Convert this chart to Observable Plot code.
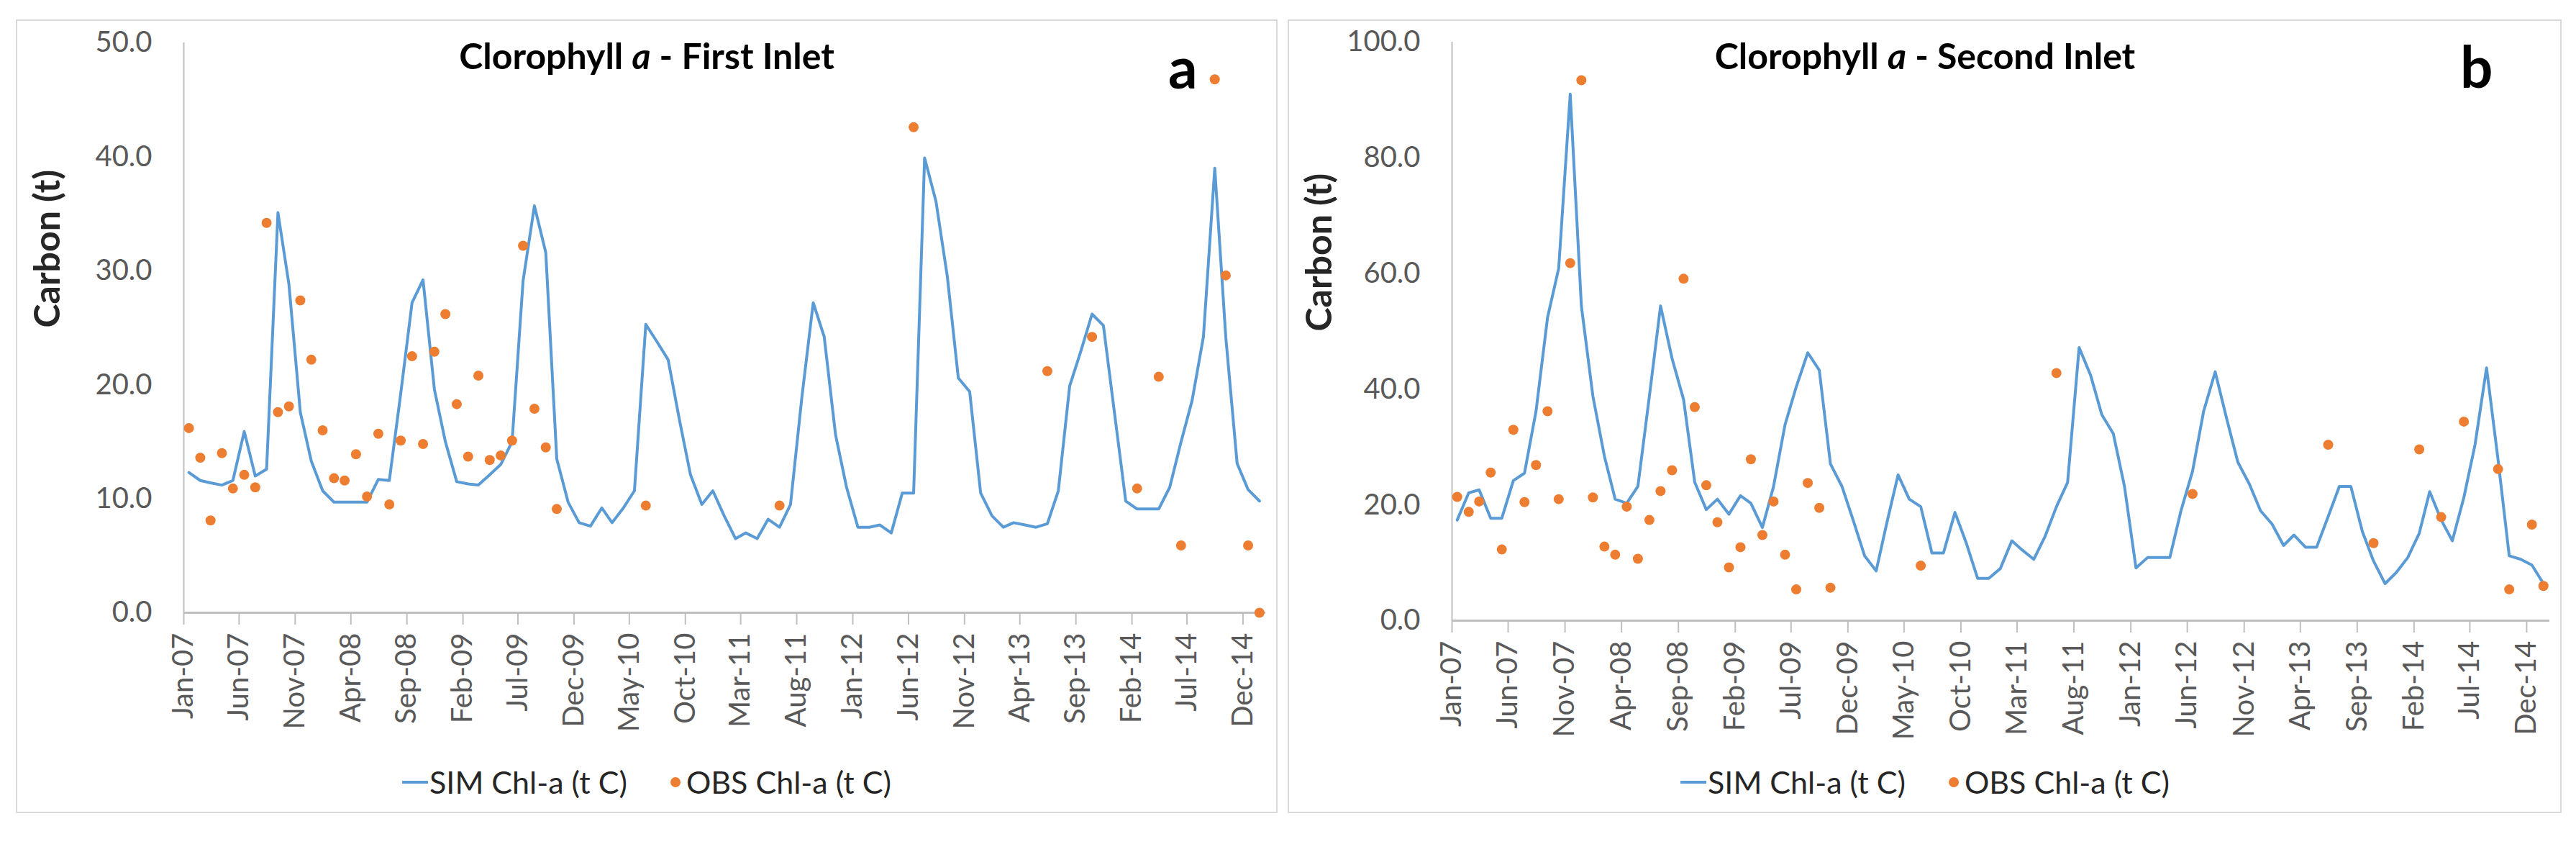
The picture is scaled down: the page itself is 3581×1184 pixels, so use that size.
<!DOCTYPE html>
<html>
<head>
<meta charset="utf-8">
<script src="https://cdn.jsdelivr.net/npm/d3@7"></script>
<script src="https://cdn.jsdelivr.net/npm/@observablehq/plot@0.6"></script>
<style>
  html, body { margin: 0; padding: 0; background: #ffffff; }
  body { width: 3581px; height: 1184px; position: relative; overflow: hidden; font-family: Lato, "Open Sans", sans-serif; }
  .panel { position: absolute; border: 2px solid #d9d9d9; box-sizing: border-box; }
  .chart { position: absolute; }
  .title { position: absolute; font-weight: bold; font-size: 50px; line-height: 1; color: #000; white-space: nowrap; transform: translateX(-50%); }
  .letter { position: absolute; font-weight: bold; font-size: 80px; line-height: 1; color: #000; }
  .legend { position: absolute; display: flex; align-items: center; transform: translateX(-50%); font-size: 43px; line-height: 1; color: #262626; white-space: nowrap; }
  .legend .item { display: flex; align-items: center; }
  .legend .swline { display: inline-block; width: 36px; height: 4px; background: #5B9BD5; margin-right: 2px; }
  .legend .swdot { display: inline-block; width: 14px; height: 14px; border-radius: 50%; background: #ED7D31; margin-right: 8px; }
</style>
</head>
<body>
<div class="panel" style="left:22px;top:27px;width:1754px;height:1103px;"></div>
<div class="panel" style="left:1790px;top:27px;width:1771px;height:1103px;"></div>
<div id="chartA" class="chart" style="left:22px;top:27px;"></div>
<div id="chartB" class="chart" style="left:1790px;top:27px;"></div>
<div class="title" style="left:899px;top:52px;">Clorophyll <i>a</i> - First Inlet</div>
<div class="title" style="left:2676px;top:52px;">Clorophyll <i>a</i> - Second Inlet</div>
<div class="letter" style="left:1624px;top:52px;">a</div>
<div class="letter" style="left:3420px;top:51px;">b</div>
<div class="legend" style="left:899px;top:1065px;">
  <span class="item"><span class="swline"></span>SIM Chl-a (t C)</span>
  <span class="item" style="margin-left:60px;"><span class="swdot"></span>OBS Chl-a (t C)</span>
</div>
<div class="legend" style="left:2676px;top:1065px;">
  <span class="item"><span class="swline"></span>SIM Chl-a (t C)</span>
  <span class="item" style="margin-left:60px;"><span class="swdot"></span>OBS Chl-a (t C)</span>
</div>
<script>
// ---- Data ----
const startMonth = "Jan-07"; // first monthly value of the SIM series
const tickLabels = ["Jan-07","Jun-07","Nov-07","Apr-08","Sep-08","Feb-09","Jul-09","Dec-09","May-10","Oct-10",
  "Mar-11","Aug-11","Jan-12","Jun-12","Nov-12","Apr-13","Sep-13","Feb-14","Jul-14","Dec-14"];

// Simulated monthly Chl-a (t C), Jan-07 .. Jan-15
const simFirst = [12.3,11.6,11.4,11.2,11.6,15.9,12.0,12.6,35.1,28.8,17.6,13.3,
  10.7,9.7,9.7,9.7,9.7,11.7,11.6,19.2,27.2,29.2,19.6,15.0,
  11.5,11.3,11.2,12.1,13.0,15.0,29.1,35.7,31.6,13.5,9.7,7.9,
  7.6,9.2,7.9,9.2,10.7,25.3,23.8,22.2,16.9,12.1,9.5,10.7,
  8.5,6.5,7.0,6.5,8.2,7.5,9.5,18.9,27.2,24.2,15.6,11.0,
  7.5,7.5,7.7,7.0,10.5,10.5,39.9,36.1,29.5,20.6,19.4,10.5,
  8.5,7.5,7.9,7.7,7.5,7.8,10.7,19.9,23.0,26.2,25.2,17.6,
  9.8,9.1,9.1,9.1,11.0,15.0,18.6,24.2,39.0,24.2,13.1,10.8,
  9.8];
const simSecond = [17.4,22.1,22.6,17.7,17.7,24.2,25.5,36.2,52.4,60.9,91.0,54.4,
  38.8,28.4,21.0,20.3,23.2,38.8,54.4,45.3,38.2,23.9,19.2,21.0,
  18.4,21.6,20.3,16.1,23.2,33.9,40.4,46.3,43.3,27.1,23.2,17.4,
  11.2,8.6,16.7,25.2,21.0,19.7,11.7,11.7,18.7,13.5,7.3,7.3,
  9.0,13.8,12.2,10.6,14.5,19.7,23.9,47.2,42.4,35.6,32.3,23.2,
  9.1,10.9,10.9,10.9,19.0,25.8,36.2,43.0,34.9,27.4,23.6,19.0,
  16.7,13.0,14.8,12.7,12.7,18.0,23.2,23.2,15.4,10.3,6.4,8.3,
  10.9,15.1,22.3,17.4,13.8,21.3,30.4,43.7,27.8,11.2,10.6,9.6,
  6.4];

// Observation months (index from Jan-07) and observed values
const obsMonths = [0,1,2,3,4,5,6,7,8,9,10,11,12,13,14,15,16,17,18,19,20,21,22,23,24,25,26,27,28,29,30,31,32,33,
  41,53,65,77,81,85,87,89,92,93,95,96];
const obsFirst = [16.2,13.6,8.1,14.0,10.9,12.1,11.0,34.2,17.6,18.1,27.4,22.2,16.0,11.8,11.6,13.9,10.2,15.7,9.5,15.1,
  22.5,14.8,22.9,26.2,18.3,13.7,20.8,13.4,13.8,15.1,32.2,17.9,14.5,9.1,
  9.4,9.4,42.6,21.2,24.2,10.9,20.7,5.9,46.8,29.6,5.9,0.0];
const obsSecond = [21.4,18.8,20.6,25.6,12.3,33.0,20.5,26.9,36.2,21.0,61.8,93.4,21.3,12.8,11.4,19.7,10.7,17.4,22.4,26.0,
  59.1,36.9,23.4,17.0,9.2,12.7,27.9,14.8,20.6,11.4,5.4,23.8,19.5,5.7,
  9.5,42.8,21.9,30.4,13.4,29.6,17.9,34.4,26.2,5.4,16.6,6.0];

const yTicksFirst = [0,10,20,30,40,50];
const yTicksSecond = [0,20,40,60,80,100];

// ---- Build ----
const parseM = d3.utcParse("%b-%y");
const fmtM = d3.utcFormat("%b-%y");
const start = parseM(startMonth);
const tickDates = tickLabels.map(parseM);
const xDomain = [start, d3.utcMonth.offset(start, 97)];
const midMonth = i => d3.utcDay.offset(d3.utcMonth.offset(start, i), 14);

function makePlot(o) {
  const simData = o.sim.map((v, i) => ({date: midMonth(i), v}));
  const obsData = obsMonths.map((m, k) => ({date: midMonth(m), v: o.obs[k]}));
  return Plot.plot({
    width: o.width, height: o.height,
    marginLeft: o.ml, marginRight: o.mr, marginTop: o.mt, marginBottom: o.mb,
    style: {fontFamily: "Lato, 'Open Sans', sans-serif", background: "transparent", overflow: "visible"},
    x: {type: "utc", domain: xDomain},
    y: {domain: [0, o.yMax]},
    marks: [
      Plot.ruleX([xDomain[0]], {stroke: "#bfbfbf", strokeWidth: 2}),
      Plot.axisY({ticks: o.yTicks, tickFormat: d => d.toFixed(1), tickSize: 0, tickPadding: 44,
        fontSize: 40, fill: "#595959", label: null}),
      Plot.axisX({ticks: tickDates, tickFormat: d => fmtM(d), tickRotate: -90, tickSize: 17, tickPadding: 11,
        fontSize: 40, fill: "#595959", stroke: "#bfbfbf", strokeWidth: 2, label: null}),
      Plot.ruleY([0], {stroke: "#bfbfbf", strokeWidth: 3}),
      Plot.line(simData, {x: "date", y: "v", stroke: "#5B9BD5", strokeWidth: 4}),
      Plot.dot(obsData, {x: "date", y: "v", r: 7, fill: "#ED7D31"}),
      Plot.text(["Carbon (t)"], {frameAnchor: "left", dx: o.labelDx, rotate: -90, fontSize: 50,
        fontWeight: "bold", fill: "#262626"})
    ]
  });
}

document.getElementById("chartA").append(makePlot({
  sim: simFirst, obs: obsFirst, yMax: 50, yTicks: yTicksFirst,
  width: 1754, height: 1010, ml: 233, mr: 17, mt: 32, mb: 186, labelDx: -189
}));
document.getElementById("chartB").append(makePlot({
  sim: simSecond, obs: obsSecond, yMax: 100, yTicks: yTicksSecond,
  width: 1771, height: 1010, ml: 228, mr: 17, mt: 31, mb: 175, labelDx: -184
}));
</script>
</body>
</html>
